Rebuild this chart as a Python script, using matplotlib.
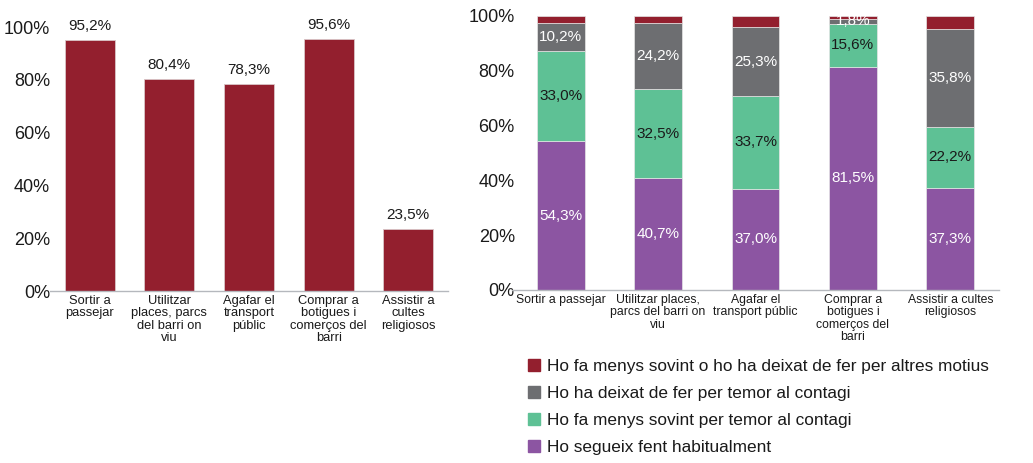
import matplotlib
matplotlib.use('Agg')
import matplotlib.pyplot as plt
import matplotlib.patches as mpatches
import numpy as np

plt.rcParams.update({
    'font.family': ['Liberation Sans', 'DejaVu Sans'],
    'figure.facecolor': 'white',
    'axes.facecolor': 'white',
})

VERMELL = '#931F2E'
GRIS = '#6D6E71'
VERD = '#5EC195'
LILA = '#8C55A2'
TEXT = '#1a1a1a'

# ── Dades ─────────────────────────────────────────────────────────────────────
cat_esq = ['Sortir a\npassejar', 'Utilitzar\nplaces, parcs\ndel barri on\nviu',
           'Agafar el\ntransport\npúblic', 'Comprar a\nbotigues i\ncomerços del\nbarri',
           'Assistir a\ncultes\nreligiosos']
total = [95.2, 80.4, 78.3, 95.6, 23.5]

cat_dre = ['Sortir a passejar', 'Utilitzar places,\nparcs del barri on\nviu',
           'Agafar el\ntransport públic', 'Comprar a\nbotigues i\ncomerços del\nbarri',
           'Assistir a cultes\nreligiosos']
habitual = [54.3, 40.7, 37.0, 81.5, 37.3]
menys_temor = [33.0, 32.5, 33.7, 15.6, 22.2]
deixat_temor = [10.2, 24.2, 25.3, 1.8, 35.8]
altres = [2.5, 2.6, 4.0, 1.1, 4.7]

series = [
    ('Ho segueix fent habitualment', habitual, LILA, 'white'),
    ('Ho fa menys sovint per temor al contagi', menys_temor, VERD, TEXT),
    ('Ho ha deixat de fer per temor al contagi', deixat_temor, GRIS, 'white'),
    ('Ho fa menys sovint o ho ha deixat de fer per altres motius', altres, VERMELL, None),
]

W, H = 1033, 463
fig = plt.figure(figsize=(W / 100, H / 100), dpi=100)


def estil(ax, pad):
    for s in ['top', 'right', 'left']:
        ax.spines[s].set_visible(False)
    ax.spines['bottom'].set_color('#B5B8BD')
    ax.spines['bottom'].set_linewidth(1.0)
    ax.set_ylim(0, 100)
    ax.set_yticks(np.arange(0, 101, 20))
    ax.set_yticklabels([f'{v}%' for v in range(0, 101, 20)], fontsize=13, color=TEXT)
    ax.tick_params(axis='y', length=0, pad=pad)
    ax.tick_params(axis='x', length=0, pad=3)


# ── Gràfic esquerre ───────────────────────────────────────────────────────────
ax1 = fig.add_axes([50 / W, 1 - 291 / H, 398 / W, 264 / H])
x = np.arange(len(total))
ax1.bar(x, total, width=0.63, color=VERMELL, edgecolor='#d9c5c8', linewidth=0.6)
for xi, v in zip(x, total):
    ax1.annotate(f'{v:.1f}%'.replace('.', ','), (xi, v), xytext=(0, 5),
                 textcoords='offset points', ha='center', va='bottom',
                 fontsize=11, color=TEXT, annotation_clip=False)
ax1.set_xlim(-0.5, len(total) - 0.5)
estil(ax1, 0)
ax1.set_xticks(x)
ax1.set_xticklabels(cat_esq, fontsize=9.3, color=TEXT, linespacing=1.02, va='top')

# ── Gràfic dret ───────────────────────────────────────────────────────────────
ax2 = fig.add_axes([512 / W, 1 - 290 / H, 487 / W, 274 / H])
x2 = np.arange(len(habitual))
base = np.zeros(len(x2))
handles = []
for nom, vals, color, tcol in series:
    vals = np.array(vals)
    ax2.bar(x2, vals, bottom=base, width=0.49, color=color,
            edgecolor='#e6e6e6', linewidth=0.5)
    if tcol is not None:
        for xi, b, v in zip(x2, base, vals):
            ax2.text(xi, b + v / 2, f'{v:.1f}%'.replace('.', ','), ha='center',
                     va='center', fontsize=11, color=tcol)
    base = base + vals
    handles.append(mpatches.Patch(color=color, label=nom))
ax2.set_xlim(-0.5, len(x2) - 0.5)
estil(ax2, -2)
ax2.set_xticks(x2)
ax2.set_xticklabels(cat_dre, fontsize=8.8, color=TEXT, linespacing=1.02, va='top')

leg = fig.legend(handles=handles[::-1], loc='upper left',
                 bbox_to_anchor=(528 / W, 1 - 359 / H), frameon=False,
                 fontsize=12.4, handlelength=0.72, handleheight=0.72,
                 handletextpad=0.4, labelspacing=0.68, borderaxespad=0,
                 borderpad=0)
for t in leg.get_texts():
    t.set_color(TEXT)

fig.savefig('out.png', dpi=100, facecolor='white')
plt.close(fig)
